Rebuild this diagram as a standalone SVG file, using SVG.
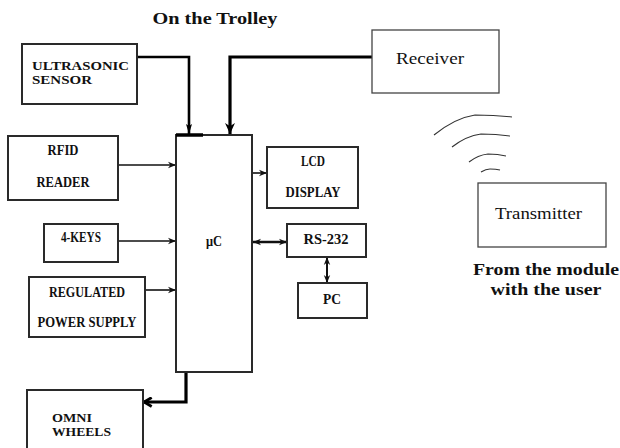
<svg xmlns="http://www.w3.org/2000/svg" width="620" height="448" viewBox="0 0 620 448">
<defs>
<style>
.box{fill:#fff;stroke:#2a2a2a;stroke-width:2}
.tbox{fill:#fff;stroke:#444;stroke-width:1.3}
.lb{font-family:"Liberation Serif",serif;font-weight:bold;font-size:14.5px;fill:#111}
.lbs{font-family:"Liberation Serif",serif;font-weight:bold;font-size:12px;fill:#111}
.ln{font-family:"Liberation Serif",serif;font-size:17px;fill:#111}
.hd{font-family:"Liberation Serif",serif;font-weight:bold;font-size:17px;fill:#111}
.thin{fill:none;stroke:#111;stroke-width:1.6}
.thick{fill:none;stroke:#000;stroke-width:3.2}
.wave{fill:none;stroke:#333;stroke-width:1.1}
</style>
<marker id="ah" viewBox="0 0 10 10" refX="10" refY="5" markerWidth="8" markerHeight="8" orient="auto-start-reverse" markerUnits="userSpaceOnUse"><path d="M0,1 L10,5 L0,9 L3,5 z" fill="#111"/></marker>
<marker id="ahb" viewBox="0 0 10 10" refX="10" refY="5" markerWidth="11" markerHeight="11" orient="auto" markerUnits="userSpaceOnUse"><path d="M0,0.5 L10,5 L0,9.5 L3,5 z" fill="#000"/></marker>
<marker id="ahn" viewBox="0 0 10 10" refX="10" refY="5" markerWidth="10" markerHeight="10" orient="auto" markerUnits="userSpaceOnUse"><path d="M0,2 L10,5 L0,8 L2,5 z" fill="#000"/></marker>
<marker id="chev" viewBox="0 0 10 10" refX="9" refY="5" markerWidth="11" markerHeight="11" orient="auto" markerUnits="userSpaceOnUse"><path d="M2,1 L9,5 L2,9" fill="none" stroke="#000" stroke-width="2.6"/></marker>
</defs>
<rect width="620" height="448" fill="#fff"/>
<text class="hd" x="215" y="24" text-anchor="middle" textLength="125" lengthAdjust="spacingAndGlyphs">On the Trolley</text>

<g id="connectors">
<path d="M137,57 H189 V134" fill="none" stroke="#000" stroke-width="2.6" marker-end="url(#ahn)"/>
<path class="thick" d="M372,57 H230 V134" marker-end="url(#ahb)"/>
<line class="thin" x1="118" y1="165" x2="176" y2="165" marker-end="url(#ah)"/>
<line class="thin" x1="118" y1="241" x2="176" y2="241" marker-end="url(#ah)"/>
<line class="thin" x1="145" y1="290" x2="176" y2="290" marker-end="url(#ah)"/>
<line class="thin" x1="252" y1="173" x2="267" y2="173" marker-end="url(#ah)"/>
<line x1="253" y1="242" x2="287" y2="242" stroke="#111" stroke-width="2.4" marker-start="url(#ah)" marker-end="url(#ah)"/>
<line x1="327" y1="257" x2="327" y2="283" stroke="#111" stroke-width="2" marker-start="url(#ah)" marker-end="url(#ah)"/>
<path class="thick" d="M186,372 V402 H144" marker-end="url(#chev)"/>
</g>

<g id="uc">
<rect class="box" x="176" y="135" width="76" height="237"/>
<line x1="176" y1="135" x2="203" y2="135" stroke="#000" stroke-width="3.5"/>
<text class="lb" x="214" y="246" text-anchor="middle" textLength="16" lengthAdjust="spacingAndGlyphs">μC</text>
</g>
<g id="ultrasonic">
<rect class="box" x="22" y="44" width="115" height="60"/>
<text class="lbs" x="32" y="70" textLength="97" lengthAdjust="spacingAndGlyphs">ULTRASONIC</text>
<text class="lbs" x="32" y="84" textLength="60" lengthAdjust="spacingAndGlyphs">SENSOR</text>
</g>
<g id="receiver">
<rect class="tbox" x="372" y="30" width="127" height="63"/>
<text class="ln" x="396" y="64" textLength="68" lengthAdjust="spacingAndGlyphs">Receiver</text>
</g>
<g id="rfid">
<rect class="box" x="8" y="136" width="110" height="64"/>
<text class="lb" x="63" y="155" text-anchor="middle" textLength="31" lengthAdjust="spacingAndGlyphs">RFID</text>
<text class="lb" x="63" y="187" text-anchor="middle" textLength="53" lengthAdjust="spacingAndGlyphs">READER</text>
</g>
<g id="keys">
<rect class="box" x="44" y="224" width="74" height="38"/>
<text class="lb" x="81" y="242" text-anchor="middle" textLength="40" lengthAdjust="spacingAndGlyphs">4-KEYS</text>
</g>
<g id="power">
<rect class="box" x="29" y="277" width="116" height="60"/>
<text class="lb" x="87" y="297" text-anchor="middle" textLength="76" lengthAdjust="spacingAndGlyphs">REGULATED</text>
<text class="lb" x="87" y="327" text-anchor="middle" textLength="99" lengthAdjust="spacingAndGlyphs">POWER SUPPLY</text>
</g>
<g id="lcd">
<rect class="box" x="267" y="147" width="91" height="61"/>
<text class="lb" x="313" y="166" text-anchor="middle" textLength="24" lengthAdjust="spacingAndGlyphs">LCD</text>
<text class="lb" x="313" y="197" text-anchor="middle" textLength="55" lengthAdjust="spacingAndGlyphs">DISPLAY</text>
</g>
<g id="rs232">
<rect class="box" x="287" y="224" width="79" height="33"/>
<text class="lb" x="326" y="244" text-anchor="middle" textLength="45" lengthAdjust="spacingAndGlyphs">RS-232</text>
</g>
<g id="pc">
<rect class="box" x="298" y="283" width="69" height="35"/>
<text class="lb" x="332" y="304" text-anchor="middle" textLength="18" lengthAdjust="spacingAndGlyphs">PC</text>
</g>
<g id="omni">
<rect class="box" x="27" y="390" width="116" height="62"/>
<text class="lbs" x="52" y="422" textLength="40" lengthAdjust="spacingAndGlyphs">OMNI</text>
<text class="lbs" x="52" y="436" textLength="59" lengthAdjust="spacingAndGlyphs">WHEELS</text>
</g>
<g id="waves">
<path class="wave" d="M434,135 Q455,118 475,115 Q495,115 512,117"/>
<path class="wave" d="M452,147 Q466,136 481,134 Q496,134 510,136"/>
<path class="wave" d="M469,162 Q478,155 488,154 Q498,154 506,156"/>
<path class="wave" d="M481,172 Q486,169 490,169 Q496,169 500,170"/>
</g>
<g id="transmitter">
<rect class="tbox" x="478" y="183" width="128" height="64"/>
<text class="ln" x="495" y="219" textLength="87" lengthAdjust="spacingAndGlyphs">Transmitter</text>
<text class="hd" x="546" y="275" text-anchor="middle" textLength="146" lengthAdjust="spacingAndGlyphs">From the module</text>
<text class="hd" x="546" y="295" text-anchor="middle" textLength="111" lengthAdjust="spacingAndGlyphs">with the user</text>
</g>
</svg>
